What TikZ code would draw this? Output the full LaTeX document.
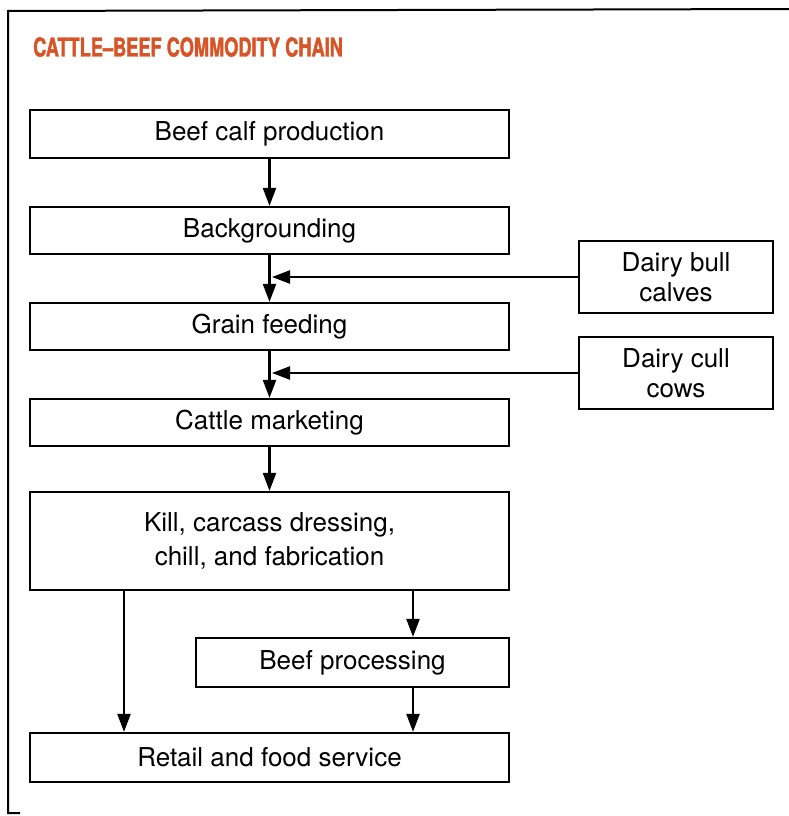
\documentclass[tikz,border=0pt]{standalone}
\usepackage{fontspec}
\setmainfont{TeX Gyre Heros}
\newfontfamily\titlefont[FakeStretch=0.7,FakeBold=1.5]{TeX Gyre Heros}
\usetikzlibrary{arrows.meta,positioning}
\definecolor{titleorange}{RGB}{214,84,38}
\begin{document}
\begin{tikzpicture}[x=1pt,y=-1pt,
  box/.style={draw,line width=2.2pt,inner sep=0pt,align=center,font=\fontsize{26}{30}\selectfont},
  arr/.style={line width=2.2pt,-{Triangle[width=13pt,length=18pt]}},
  frame/.style={line width=2pt}]
\useasboundingbox (0,0) rectangle (789,816);
% outer frame
\draw[frame] (789,9) -- (8,11) -- (8,813) -- (20,813);
% title
\node[anchor=west,text=titleorange,font=\titlefont\bfseries\fontsize{26}{30}\selectfont,inner sep=0pt] (title) at (33,47) {CATTLE–BEEF COMMODITY CHAIN};
% main chain
\node[box,minimum width=479pt,minimum height=48pt] (b1) at (269.5,134) {Beef calf production};
\node[box,minimum width=479pt,minimum height=47pt] (b2) at (269.5,230.5) {Backgrounding};
\node[box,minimum width=479pt,minimum height=47pt] (b3) at (269.5,326.5) {Grain feeding};
\node[box,minimum width=479pt,minimum height=47pt] (b4) at (269.5,422.5) {Cattle marketing};
\node[box,minimum width=479pt,minimum height=98pt,font=\fontsize{26}{34}\selectfont] (b5) at (269.5,541) {Kill, carcass dressing,\\chill, and fabrication};
\node[box,minimum width=313pt,minimum height=49pt] (b6) at (352.5,662.5) {Beef processing};
\node[box,minimum width=479pt,minimum height=49pt] (b7) at (269.5,757.5) {Retail and food service};
% dairy inputs
\node[box,minimum width=194pt,minimum height=72pt] (bull) at (676,277) {Dairy bull\\calves};
\node[box,minimum width=194pt,minimum height=72pt] (cows) at (676,373) {Dairy cull\\cows};
% helper coordinates
\coordinate (m) at (272,0);
\coordinate (l) at (124,0);
\coordinate (r) at (413,0);
% connectors
\draw[arr] (b1.south) -- (b2.north);
\draw[arr] (b2.south) -- (b3.north);
\draw[arr] (b3.south) -- (b4.north);
\draw[arr] (b4.south) -- (b5.north);
\draw[arr] (bull.west) -- (bull.west -| m);
\draw[arr] (cows.west) -- (cows.west -| m);
\draw[arr] (b5.south -| l) -- (b7.north -| l);
\draw[arr] (b5.south -| r) -- (b6.north -| r);
\draw[arr] (b6.south -| r) -- (b7.north -| r);
\end{tikzpicture}
\end{document}
